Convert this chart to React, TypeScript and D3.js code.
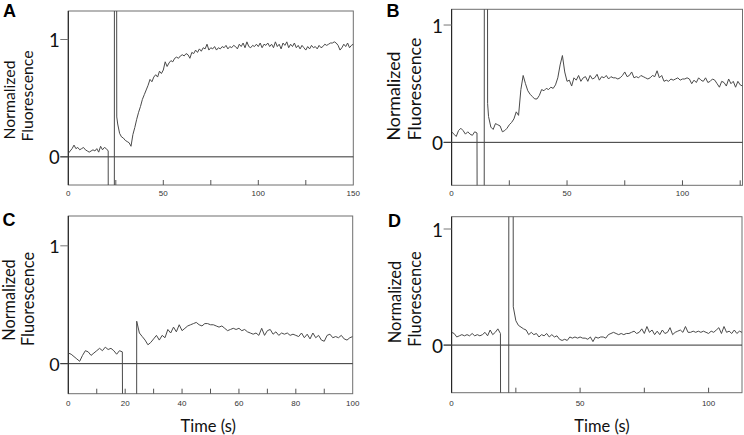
import React from "react";
import * as d3 from "d3";

// ---------- DATA ----------
// Panel A: t = 0..21 s, then artifact, then t = 26..150 s
const aPre = [0.03, 0.05, 0.07, 0.1, 0.07, 0.08, 0.06, 0.07, 0.08, 0.06, 0.05, 0.04, 0.05, 0.06, 0.05, 0.07, 0.04, 0.09, 0.06, 0.08, 0.07, 0.05];
const aArtifact: [number, number][] = [[21.1, -2], [24.2, -2], [24.3, 3], [25.4, 3], [25.5, 0.34]];
const aPost = [
  0.28, 0.2, 0.17, 0.16, 0.14, 0.13, 0.12, 0.09, 0.19, 0.25,
  0.32, 0.38, 0.43, 0.49, 0.53, 0.57, 0.61, 0.66, 0.64, 0.68,
  0.7, 0.68, 0.73, 0.71, 0.74, 0.81, 0.77, 0.8, 0.82, 0.81,
  0.84, 0.85, 0.84, 0.86, 0.87, 0.86, 0.88, 0.87, 0.84, 0.89,
  0.88, 0.91, 0.89, 0.92, 0.9, 0.93, 0.92, 0.96, 0.91, 0.93,
  0.92, 0.94, 0.91, 0.93, 0.92, 0.94, 0.93, 0.95, 0.92, 0.94,
  0.93, 0.95, 0.94, 0.92, 0.96, 0.94, 0.97, 0.93, 0.98, 0.94,
  0.93, 0.95, 0.94, 0.96, 0.94, 0.97, 0.93, 0.96, 0.95, 0.97,
  0.94, 0.96, 0.93, 0.98, 0.94, 0.96, 0.92, 0.97, 0.95, 0.98,
  0.93, 0.96, 0.94, 0.97, 0.93, 0.95, 0.92, 0.95, 0.93, 0.91,
  0.94, 0.92, 0.95, 0.93, 0.94, 0.92, 0.95, 0.93, 0.94, 0.96,
  0.95, 0.96, 0.97, 0.97, 0.98, 0.97, 0.95, 0.91, 0.93, 0.96,
  0.94, 0.97, 0.93, 0.95, 0.96,
];

// Panel B: t = 0..11 s, artifact, t = 16..126 s
const bPre = [0.09, 0.07, 0.05, 0.1, 0.12, 0.1, 0.07, 0.09, 0.07, 0.06, 0.09, 0.08];
const bArtifact: [number, number][] = [[11.2, -2], [14.1, -2], [14.2, 3], [15.5, 3], [15.6, 0.33]];
const bPost = [
  0.22, 0.13, 0.11, 0.16, 0.15, 0.14, 0.09, 0.1, 0.12, 0.15,
  0.17, 0.2, 0.26, 0.23, 0.45, 0.57, 0.5, 0.44, 0.41, 0.39,
  0.37, 0.37, 0.4, 0.45, 0.44, 0.46, 0.45, 0.47, 0.46, 0.49,
  0.55, 0.66, 0.74, 0.6, 0.52, 0.53, 0.48, 0.55, 0.53, 0.57,
  0.52, 0.55, 0.56, 0.52, 0.57, 0.54, 0.55, 0.58, 0.53, 0.56,
  0.55, 0.57, 0.54, 0.56, 0.55, 0.55, 0.54, 0.55, 0.57, 0.6,
  0.56, 0.57, 0.6, 0.55, 0.56, 0.55, 0.57, 0.56, 0.55, 0.54,
  0.55, 0.57, 0.56, 0.61, 0.55, 0.57, 0.52, 0.53, 0.52, 0.54,
  0.53, 0.54, 0.55, 0.53, 0.54, 0.54, 0.55, 0.54, 0.5, 0.53,
  0.51, 0.55, 0.53, 0.52, 0.55, 0.51, 0.52, 0.54, 0.53, 0.5,
  0.47, 0.52, 0.51, 0.48, 0.54, 0.5, 0.52, 0.47, 0.52, 0.49,
  0.48,
];

// Panel C: t = 0..19 s, artifact, t = 25..100 s
const cPre = [0.09, 0.08, 0.06, 0.04, 0.02, 0.07, 0.11, 0.1, 0.07, 0.09, 0.11, 0.13, 0.11, 0.14, 0.12, 0.13, 0.11, 0.08, 0.11, 0.1];
const cArtifact: [number, number][] = [[19.3, -2], [24.0, -2], [24.05, 0.36]];
const cPost = [
  0.26, 0.23, 0.2, 0.16, 0.18, 0.21, 0.24, 0.2, 0.24, 0.22,
  0.29, 0.26, 0.31, 0.27, 0.33, 0.28, 0.3, 0.32, 0.33, 0.34,
  0.35, 0.33, 0.32, 0.34, 0.34, 0.33, 0.33, 0.32, 0.31, 0.32,
  0.3, 0.28, 0.29, 0.3, 0.29, 0.3, 0.28, 0.29, 0.27, 0.26,
  0.25, 0.26, 0.24, 0.3, 0.24, 0.28, 0.29, 0.25, 0.27, 0.24,
  0.26, 0.25, 0.26, 0.24, 0.25, 0.24, 0.23, 0.26, 0.22, 0.25,
  0.21, 0.26, 0.22, 0.24, 0.2, 0.19, 0.24, 0.25, 0.22, 0.23,
  0.22, 0.24, 0.21, 0.2, 0.22, 0.23,
];

// Panel D: t = 0..19 s, artifact, t = 25..113 s
const dPre = [0.11, 0.1, 0.07, 0.08, 0.09, 0.08, 0.09, 0.08, 0.1, 0.08, 0.09, 0.08, 0.09, 0.11, 0.08, 0.13, 0.09, 0.11, 0.14, 0.1];
const dArtifact: [number, number][] = [[19.2, -2], [22.2, -2], [22.3, 3], [23.9, 3], [24.0, 0.33]];
const dPost = [
  0.21, 0.17, 0.155, 0.14, 0.13, 0.09, 0.11, 0.09, 0.1, 0.07,
  0.09, 0.08, 0.1, 0.07, 0.09, 0.07, 0.08, 0.05, 0.04, 0.05,
  0.04, 0.07, 0.06, 0.07, 0.06, 0.07, 0.06, 0.06, 0.05, 0.07,
  0.03, 0.07, 0.06, 0.07, 0.07, 0.06, 0.09, 0.1, 0.11, 0.1,
  0.09, 0.1, 0.09, 0.1, 0.1, 0.11, 0.12, 0.1, 0.11, 0.14,
  0.1, 0.16, 0.11, 0.13, 0.09, 0.12, 0.09, 0.13, 0.1, 0.11,
  0.15, 0.09, 0.11, 0.12, 0.13, 0.11, 0.16, 0.11, 0.11, 0.12,
  0.11, 0.12, 0.11, 0.12, 0.11, 0.1, 0.12, 0.11, 0.13, 0.15,
  0.1, 0.16, 0.11, 0.12, 0.1, 0.13, 0.1, 0.12, 0.11,
];

const aXTicks = [0, 25, 50, 75, 100, 125, 150];
const aXLabels = [0, 50, 100, 150];
const bXTicks = [0, 25, 50, 75, 100, 125];
const bXLabels = [0, 50, 100];
const cXTicks = [0, 10, 20, 30, 40, 50, 60, 70, 80, 90, 100];
const cXLabels = [0, 20, 40, 60, 80, 100];
const dXTicks = [0, 25, 50, 75, 100];
const dXLabels = [0, 50, 100];
const yTicks = [0, 1];
const panelLetters = ["A", "B", "C", "D"];
const yLabelLines = ["Normalized", "Fluorescence"];
const xTitle = "Time (s)";

function buildSeries(pre: number[], artifact: [number, number][], post: number[], postStart: number): [number, number][] {
  return [
    ...pre.map((v, i) => [i, v] as [number, number]),
    ...artifact,
    ...post.map((v, i) => [postStart + i, v] as [number, number]),
  ];
}

// ---------- LAYOUT ----------
type PanelCfg = {
  id: string;
  letter: string;
  letterX: number; letterY: number;
  left: number; right: number; top: number; bottom: number;
  xDomain: [number, number];
  yDomain: [number, number];
  xTicks: number[]; xLabels: number[];
  data: [number, number][];
  labelFont: number;
  yLabelPos: { nx: number; ny: number; fx: number; fy: number };
  tickFont: number;
  xTickLabelY: number;
  showTitle: boolean;
  titleX: number; titleY: number;
};

const panels: PanelCfg[] = [
  {
    id: "a", letter: panelLetters[0], letterX: 3, letterY: 17,
    left: 68.3, right: 353.3, top: 11, bottom: 185,
    xDomain: [0, 150], yDomain: [-0.24, 1.243],
    xTicks: aXTicks, xLabels: aXLabels,
    data: buildSeries(aPre, aArtifact, aPost, 26),
    labelFont: 15.8, yLabelPos: { nx: 9.7, ny: 100, fx: 27, fy: 96 },
    tickFont: 18.5, xTickLabelY: 193.5, showTitle: false, titleX: 0, titleY: 0,
  },
  {
    id: "b", letter: panelLetters[1], letterX: 386.5, letterY: 17,
    left: 451.6, right: 742.5, top: 9.3, bottom: 185.3,
    xDomain: [0, 126], yDomain: [-0.366, 1.134],
    xTicks: bXTicks, xLabels: bXLabels,
    data: buildSeries(bPre, bArtifact, bPost, 16),
    labelFont: 17.8, yLabelPos: { nx: 393.7, ny: 96, fx: 415, fy: 89 },
    tickFont: 19, xTickLabelY: 193.5, showTitle: false, titleX: 0, titleY: 0,
  },
  {
    id: "c", letter: panelLetters[2], letterX: 2.5, letterY: 225.5,
    left: 68.3, right: 352.7, top: 216, bottom: 393.7,
    xDomain: [0, 100], yDomain: [-0.255, 1.253],
    xTicks: cXTicks, xLabels: cXLabels,
    data: buildSeries(cPre, cArtifact, cPost, 25),
    labelFont: 16.3, yLabelPos: { nx: 9.2, ny: 300, fx: 28.3, fy: 299 },
    tickFont: 18, xTickLabelY: 403.5, showTitle: true, titleX: 208.3, titleY: 426,
  },
  {
    id: "d", letter: panelLetters[3], letterX: 388, letterY: 227,
    left: 451.6, right: 742, top: 216.7, bottom: 392.7,
    xDomain: [0, 113], yDomain: [-0.41, 1.106],
    xTicks: dXTicks, xLabels: dXLabels,
    data: buildSeries(dPre, dArtifact, dPost, 25),
    labelFont: 16.5, yLabelPos: { nx: 395, ny: 302, fx: 415.3, fy: 299 },
    tickFont: 19, xTickLabelY: 403.5, showTitle: true, titleX: 602, titleY: 425.5,
  },
];

const SANS = "Lato, 'Open Sans', 'DejaVu Sans', sans-serif";
const ARIAL = "'Liberation Sans', Arial, sans-serif";

function Panel({ p }: { p: PanelCfg }) {
  const x = d3.scaleLinear().domain(p.xDomain).range([p.left, p.right]);
  const y = d3.scaleLinear().domain(p.yDomain).range([p.bottom, p.top]);
  const line = d3.line<[number, number]>().x((d) => x(d[0])).y((d) => y(d[1]));
  const clipId = `clip-${p.id}`;
  return (
    <g>
      <defs>
        <clipPath id={clipId}>
          <rect x={p.left} y={p.top} width={p.right - p.left} height={p.bottom - p.top} />
        </clipPath>
      </defs>
      {/* frame */}
      <rect x={p.left} y={p.top} width={p.right - p.left} height={p.bottom - p.top}
        fill="none" stroke="#6f6f6f" strokeWidth={1} />
      <line x1={p.left} x2={p.left} y1={p.top} y2={p.bottom} stroke="#222" strokeWidth={1.1} />
      {/* x ticks (inward) */}
      {p.xTicks.filter((t) => t > p.xDomain[0] && t < p.xDomain[1]).map((t) => (
        <line key={`xt${t}`} x1={x(t)} x2={x(t)} y1={p.bottom} y2={p.bottom - 5} stroke="#555" strokeWidth={1} />
      ))}
      {p.xLabels.map((t) => (
        <text key={`xl${t}`} x={x(t)} y={p.xTickLabelY} textAnchor="middle" dominantBaseline="central"
          fontFamily={ARIAL} fontSize={8} fill="#333">{t}</text>
      ))}
      {/* y ticks (outward) and labels */}
      {yTicks.map((t) => (
        <g key={`yt${t}`}>
          <line x1={p.left - 8} x2={p.left} y1={y(t)} y2={y(t)} stroke="#777" strokeWidth={1} />
          <text x={p.left - 8.5} y={y(t)} textAnchor="end" dominantBaseline="central"
            fontFamily={SANS} fontSize={p.tickFont} fill="#111">{t}</text>
        </g>
      ))}
      {/* zero line */}
      <line x1={p.left - 8} x2={p.right} y1={y(0)} y2={y(0)} stroke="#333" strokeWidth={1} />
      {/* trace */}
      <path d={line(p.data) ?? ""} fill="none" stroke="#4a4a4a" strokeWidth={1} clipPath={`url(#${clipId})`} />
      {/* y label */}
      <text transform={`translate(${p.yLabelPos.nx},${p.yLabelPos.ny}) rotate(-90)`} dy="0.35em"
        textAnchor="middle" fontFamily={SANS} fontSize={p.labelFont} fill="#111">{yLabelLines[0]}</text>
      <text transform={`translate(${p.yLabelPos.fx},${p.yLabelPos.fy}) rotate(-90)`} dy="0.35em"
        textAnchor="middle" fontFamily={SANS} fontSize={p.labelFont} fill="#111">{yLabelLines[1]}</text>
      {/* panel letter */}
      <text x={p.letterX} y={p.letterY} fontFamily={ARIAL} fontWeight="bold" fontSize={18} fill="#000">{p.letter}</text>
      {p.showTitle && (
        <text x={p.titleX} y={p.titleY} textAnchor="middle" dominantBaseline="central"
          fontFamily={SANS} fontSize={16.5} fill="#111">{xTitle}</text>
      )}
    </g>
  );
}

export default function App() {
  return (
    <svg width={744} height={435} style={{ position: "absolute", left: 0, top: 0, background: "#fff" }}>
      <rect x={0} y={0} width={744} height={435} fill="#fff" />
      {panels.map((p) => <Panel key={p.id} p={p} />)}
    </svg>
  );
}
